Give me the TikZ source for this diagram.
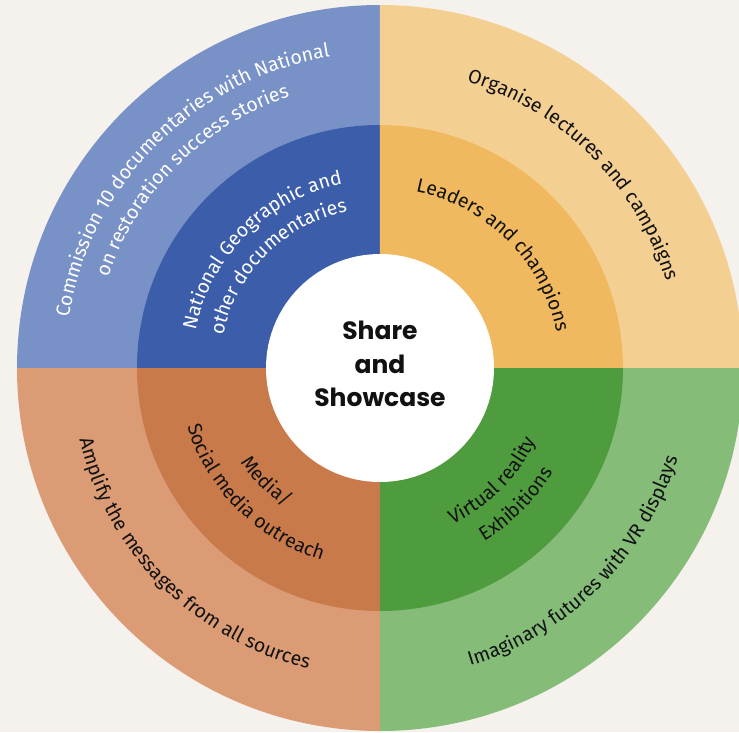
\documentclass[tikz,border=0pt]{standalone}
\usepackage{fontspec}
\setmainfont{Fira Sans}
\newfontfamily\labfont{Fira Sans}
\newfontfamily\ctrfont{Poppins}
\usetikzlibrary{decorations.text}
\definecolor{bg}{HTML}{F5F1ED}
\definecolor{oblue}{HTML}{7891C6}
\definecolor{mblue}{HTML}{3C5EAA}
\definecolor{oorange}{HTML}{F4CF92}
\definecolor{morange}{HTML}{F0B95F}
\definecolor{ogreen}{HTML}{84BC78}
\definecolor{mgreen}{HTML}{4E9C3E}
\definecolor{obrown}{HTML}{DB9B74}
\definecolor{mbrown}{HTML}{C97A4A}
\definecolor{ink}{HTML}{111111}
\def\lw{\labfont\fontsize{19.5}{23}\selectfont\color{white}}
\def\lk{\labfont\fontsize{19.5}{23}\selectfont\color{ink}}
\tikzset{
  sector/.style={fill=#1},
  curvedlabel/.style={decorate, decoration={text along path, text align=center, text={#1}}},
}
\begin{document}
\begin{tikzpicture}
\useasboundingbox (-380pt,-364pt) rectangle (359pt,368pt);
\clip (-380pt,-364pt) rectangle (359pt,368pt);
\fill[bg] (-380pt,-364pt) rectangle (359pt,368pt);
% outer ring
\fill[sector=oblue]   (0,0) -- (180:363pt) arc[start angle=180,end angle=90,radius=363pt] -- cycle;
\fill[sector=oorange] (0,0) -- (90:363pt) arc[start angle=90,end angle=0,radius=363pt] -- cycle;
\fill[sector=ogreen]  (0,0) -- (0:363pt) arc[start angle=0,end angle=-90,radius=363pt] -- cycle;
\fill[sector=obrown]  (0,0) -- (270:363pt) arc[start angle=270,end angle=180,radius=363pt] -- cycle;
% middle ring
\fill[sector=mblue]   (0,0) -- (180:243pt) arc[start angle=180,end angle=90,radius=243pt] -- cycle;
\fill[sector=morange] (0,0) -- (90:243pt) arc[start angle=90,end angle=0,radius=243pt] -- cycle;
\fill[sector=mgreen]  (0,0) -- (0:243pt) arc[start angle=0,end angle=-90,radius=243pt] -- cycle;
\fill[sector=mbrown]  (0,0) -- (270:243pt) arc[start angle=270,end angle=180,radius=243pt] -- cycle;
% centre
\node[circle, fill=white, minimum size=228pt, inner sep=0pt] (ctr) at (0,0) {};
\node[align=center, font=\ctrfont\bfseries\fontsize{25}{33.5}\selectfont, text=ink, inner sep=0pt] (title) at (0,4pt) {Share\\and\\Showcase};
% top-left labels
\path[curvedlabel={|\lw|Commission 10 documentaries with National}] (180:315pt) arc[start angle=180,end angle=90,radius=315pt];
\path[curvedlabel={|\lw|on restoration success stories}] (180:286pt) arc[start angle=180,end angle=90,radius=286pt];
\path[curvedlabel={|\lw|National Geographic and}] (180:188pt) arc[start angle=180,end angle=90,radius=188pt];
\path[curvedlabel={|\lw|other documentaries}] (180:160pt) arc[start angle=180,end angle=90,radius=160pt];
% top-right labels
\path[curvedlabel={|\lk|Organise lectures and campaigns}] (90:299pt) arc[start angle=90,end angle=0,radius=299pt];
\path[curvedlabel={|\lk|Leaders and champions}] (90:180pt) arc[start angle=90,end angle=0,radius=180pt];
% bottom-left labels
\path[curvedlabel={|\lk|Amplify the messages from all sources}] (180:309pt) arc[start angle=180,end angle=270,radius=309pt];
\path[curvedlabel={|\lk|Media/}] (180:168pt) arc[start angle=180,end angle=270,radius=168pt];
\path[curvedlabel={|\lk|Social media outreach}] (180:201pt) arc[start angle=180,end angle=270,radius=201pt];
% bottom-right labels
\path[curvedlabel={|\lk|Imaginary futures with VR displays}] (270:311pt) arc[start angle=270,end angle=360,radius=311pt];
\path[curvedlabel={|\lk|Virtual reality}] (270:172pt) arc[start angle=270,end angle=360,radius=172pt];
\path[curvedlabel={|\lk|Exhibitions}] (270:202pt) arc[start angle=270,end angle=360,radius=202pt];
\end{tikzpicture}
\end{document}
